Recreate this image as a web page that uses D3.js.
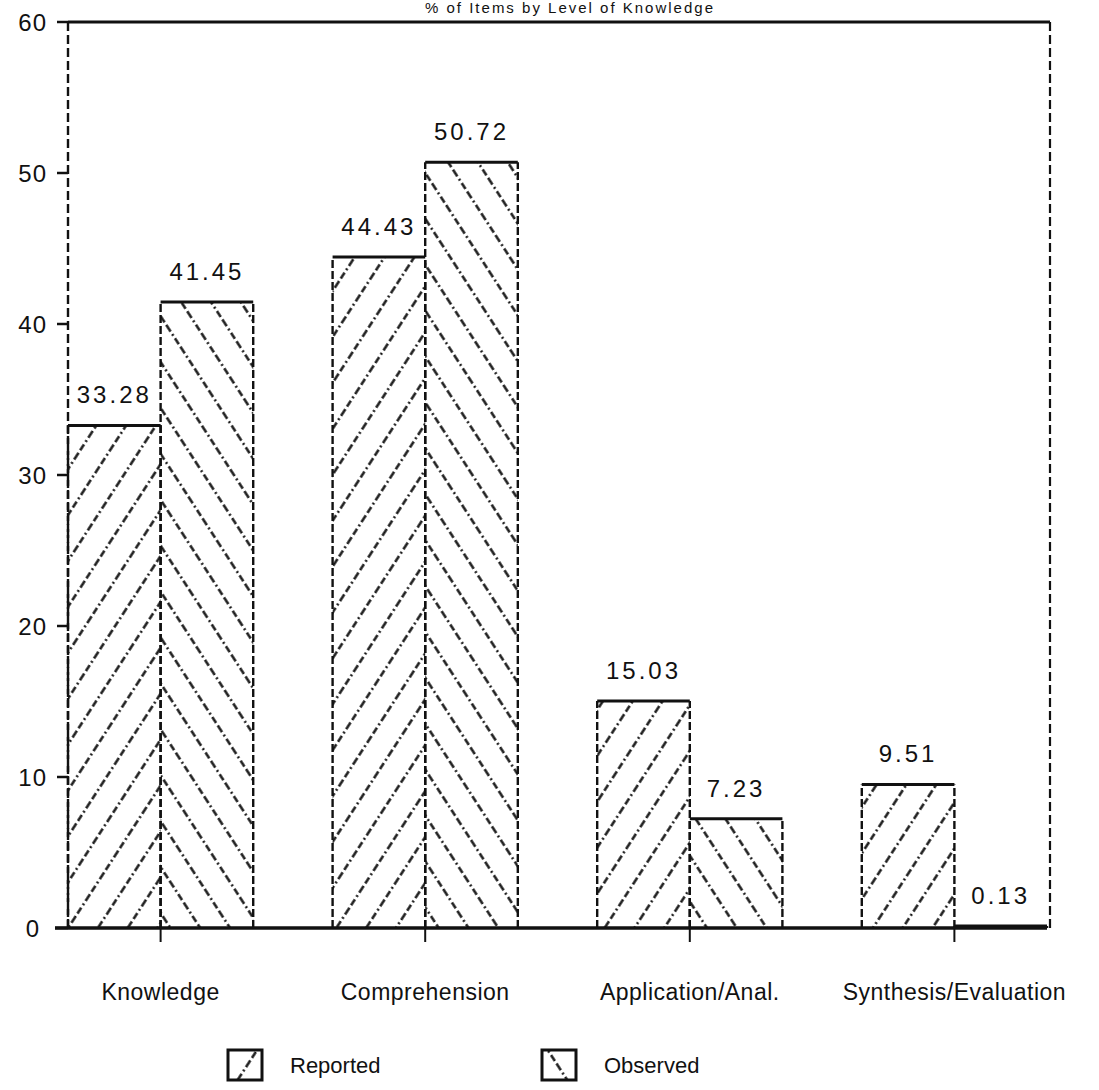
<!DOCTYPE html>
<html><head><meta charset="utf-8">
<script src="https://cdn.jsdelivr.net/npm/d3@7"></script>
<style>
body{margin:0;background:#fff;}
svg{display:block;}
text{font-family:"Liberation Sans",Arial,sans-serif;fill:#111;}
</style></head>
<body><svg id="c" width="1099" height="1090"></svg>
<script>
const title = "% of Items by Level of Knowledge";
const categories = ["Knowledge","Comprehension","Application/Anal.","Synthesis/Evaluation"];
const seriesNames = ["Reported","Observed"];
const reported = [33.28, 44.43, 15.03, 9.51];
const observed = [41.45, 50.72, 7.23, 0.13];
const reportedLabels = ["33.28","44.43","15.03","9.51"];
const observedLabels = ["41.45","50.72","7.23","0.13"];
const yTicks = [0,10,20,30,40,50,60];

(function(){
const svg = d3.select("#c");
const mLeft = 68, mRight = 1047, mTop = 22, mBottom = 928;

const x = d3.scaleBand().domain(categories).range([mLeft, mRight]).paddingInner(0.3).paddingOuter(0);
const xs = d3.scaleBand().domain(seriesNames).range([0, x.bandwidth()]).padding(0);
const y = d3.scaleLinear().domain([0,60]).range([mBottom, mTop]);

const defs = svg.append("defs");
function hatch(id, angle){
  const p = defs.append("pattern").attr("id", id).attr("patternUnits","userSpaceOnUse")
    .attr("width", 25).attr("height", 26).attr("patternTransform", `rotate(${angle})`);
  p.append("line").attr("x1",12.5).attr("y1",0).attr("x2",12.5).attr("y2",26)
    .attr("stroke","#111").attr("stroke-width",2.4).attr("stroke-dasharray","7,3,2,3");
}
hatch("hRep", 33);
hatch("hObs", -33);

svg.append("text").attr("x", 570).attr("y", 13).attr("text-anchor","middle")
  .attr("font-size", 15).attr("letter-spacing", 2).text(title);

svg.append("line").attr("x1", mLeft).attr("x2", 1050).attr("y1", y(60)).attr("y2", y(60))
  .attr("stroke","#111").attr("stroke-width",3);
svg.append("line").attr("x1", 1050).attr("x2", 1050).attr("y1", y(60)).attr("y2", mBottom)
  .attr("stroke","#111").attr("stroke-width",2.2).attr("stroke-dasharray","9,4");

const data = [];
categories.forEach((c,i)=>{
  data.push({c, s:"Reported", v:reported[i], lab:reportedLabels[i], fill:"url(#hRep)"});
  data.push({c, s:"Observed", v:observed[i], lab:observedLabels[i], fill:"url(#hObs)"});
});
const g = svg.append("g");
const bars = g.selectAll("g.bar").data(data).join("g").attr("class","bar");
bars.append("rect")
  .attr("x", d=>x(d.c)+xs(d.s)).attr("y", d=>y(d.v))
  .attr("width", xs.bandwidth()).attr("height", d=>y(0)-y(d.v))
  .attr("fill", d=>d.fill);
bars.append("path")
  .attr("d", d=>{const x0=x(d.c)+xs(d.s), x1=x0+xs.bandwidth(); return `M${x0},${y(0)}V${y(d.v)}M${x1},${y(0)}V${y(d.v)}`;})
  .attr("fill","none").attr("stroke","#111").attr("stroke-width",2.4).attr("stroke-dasharray","8,3");
bars.append("line")
  .attr("x1", d=>x(d.c)+xs(d.s)).attr("x2", d=>x(d.c)+xs(d.s)+xs.bandwidth())
  .attr("y1", d=>y(d.v)).attr("y2", d=>y(d.v))
  .attr("stroke","#111").attr("stroke-width",3);
bars.append("text")
  .attr("x", d=>x(d.c)+xs(d.s)+xs.bandwidth()/2)
  .attr("y", d=>y(d.v)-22)
  .attr("text-anchor","middle").attr("font-size",24).attr("letter-spacing",3)
  .text(d=>d.lab);

svg.append("line").attr("x1", mLeft).attr("x2", mLeft).attr("y1", y(60)).attr("y2", mBottom)
  .attr("stroke","#111").attr("stroke-width",2.4).attr("stroke-dasharray","9,4");
const ya = svg.append("g");
ya.selectAll("line").data(yTicks).join("line")
  .attr("x1", d=> d===0 ? 55 : 57).attr("x2", mLeft).attr("y1", d=>y(d)).attr("y2", d=>y(d))
  .attr("stroke","#111").attr("stroke-width",2.5);
ya.selectAll("text").data(yTicks).join("text")
  .attr("x", d=> d===0 ? 40 : 47).attr("y", d=>y(d)).attr("dy","0.36em")
  .attr("text-anchor","end").attr("font-size",24).attr("letter-spacing",1)
  .text(d=>d);

svg.append("line").attr("x1", 55).attr("x2", mRight).attr("y1", mBottom).attr("y2", mBottom)
  .attr("stroke","#111").attr("stroke-width",3.5);
const xa = svg.append("g");
xa.selectAll("line").data(categories).join("line")
  .attr("x1", d=>x(d)+x.bandwidth()/2).attr("x2", d=>x(d)+x.bandwidth()/2)
  .attr("y1", mBottom).attr("y2", mBottom+14).attr("stroke","#111").attr("stroke-width",2);
xa.selectAll("text").data(categories).join("text")
  .attr("x", d=>x(d)+x.bandwidth()/2).attr("y", 1000)
  .attr("text-anchor","middle").attr("font-size",23).attr("letter-spacing",0.5)
  .text(d=>d);

const legend = svg.append("g");
const lx = [228, 542];
seriesNames.forEach((s,i)=>{
  legend.append("rect").attr("x", lx[i]).attr("y", 1050).attr("width", 34).attr("height", 30)
    .attr("fill", i===0 ? "url(#hRep)" : "url(#hObs)").attr("stroke","#111").attr("stroke-width",3);
  legend.append("text").attr("x", lx[i]+62).attr("y", 1073).attr("font-size",22).text(s);
});
})();
</script></body></html>
